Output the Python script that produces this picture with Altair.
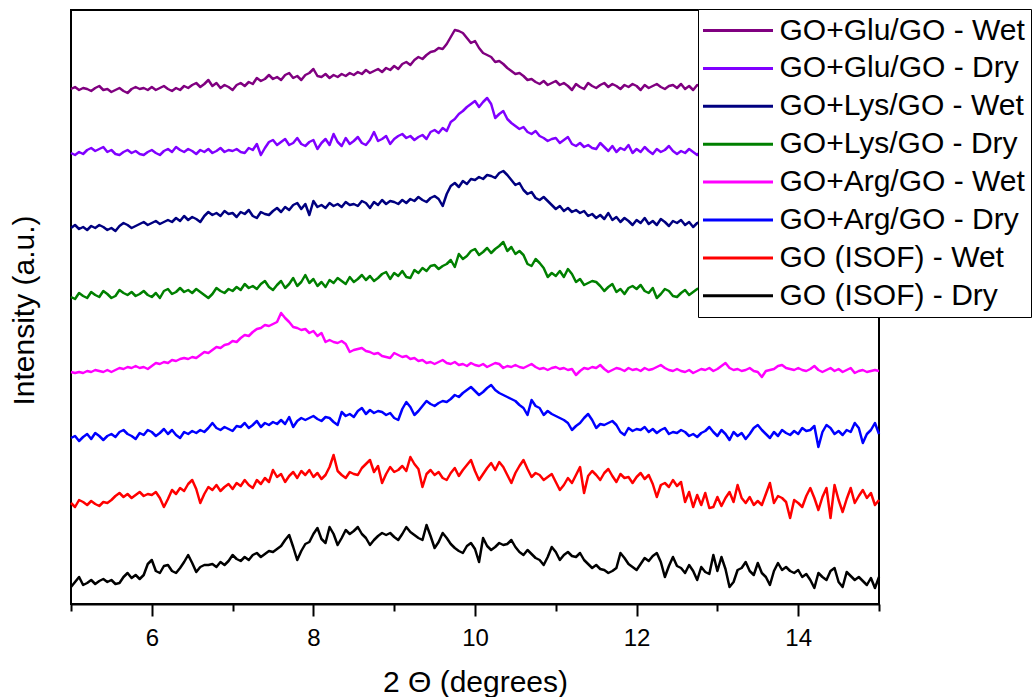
import altair as alt
import pandas as pd

two_theta = [round(5 + 0.05 * i, 2) for i in range(201)]

series_names = [
    "GO+Glu/GO - Wet", "GO+Glu/GO - Dry", "GO+Lys/GO - Wet", "GO+Lys/GO - Dry",
    "GO+Arg/GO - Wet", "GO+Arg/GO - Dry", "GO (ISOF) - Wet", "GO (ISOF) - Dry",
]
series_colors = ["#800080", "#8000FF", "#000080", "#008000",
                 "#FF00FF", "#0000FF", "#FF0000", "#000000"]

glu_wet = [
    515, 517, 514, 516, 515, 513, 516, 518, 514, 515,
    512, 514, 516, 513, 511, 515, 517, 515, 516, 514,
    517, 514, 516, 518, 515, 513, 516, 514, 518, 516,
    519, 521, 517, 520, 524, 518, 521, 516, 519, 517,
    514, 519, 521, 518, 522, 520, 526, 523, 525, 529,
    525, 527, 524, 529, 531, 526, 528, 524, 529, 531,
    535, 528, 527, 530, 526, 529, 527, 530, 528, 531,
    529, 532, 530, 534, 531, 533, 535, 532, 536, 534,
    538, 535, 540, 542, 539, 544, 547, 545, 549, 552,
    553, 556, 555, 560, 567, 574, 573, 571, 566, 561,
    563, 556, 551, 549, 547, 542, 543, 540, 536, 533,
    530, 531, 528, 524, 525, 522, 520, 523, 519, 521,
    523, 519, 521, 518, 514, 520, 517, 515, 521, 518,
    516, 519, 521, 517, 520, 518, 515, 519, 517, 520,
    518, 514, 519, 516, 518, 520, 517, 515, 518, 519,
    516, 520, 515, 518, 514, 519, 517, 515, 518, 516,
    517, 515, 518, 516, 514, 517, 519, 516, 515, 517,
    516, 518, 515, 517, 514, 516, 518, 515, 517, 516,
    515, 517, 519, 516, 514, 517, 515, 518, 516, 515,
    517, 514, 516, 518, 515, 517, 516, 514, 517, 515, 516,
]
glu_dry = [
    451, 449, 452, 450, 454, 456, 453, 455, 457, 452,
    454, 450, 449, 452, 454, 451, 453, 450, 449, 452,
    454, 451, 449, 453, 455, 452, 457, 454, 452, 455,
    453, 450, 454, 452, 455, 451, 453, 456, 452, 454,
    453, 455, 452, 451, 456, 454, 460, 449, 456, 462,
    464, 459, 462, 465, 459, 461, 466, 460, 458, 462,
    464, 455, 461, 465, 459, 470, 462, 458, 466, 460,
    463, 467, 461, 459, 464, 472, 463, 465, 468, 460,
    465, 468, 470, 466, 468, 464, 467, 469, 465, 472,
    474, 471, 476, 473, 482, 485, 490, 493, 497, 500,
    503, 497, 502, 506, 500, 486, 490, 493, 485, 481,
    478, 475, 477, 472, 470, 473, 468, 466, 463, 465,
    466, 461, 464, 467, 460, 458, 461, 457, 459, 456,
    455, 461, 457, 453, 458, 452, 456, 454, 459, 451,
    455, 452, 457, 453, 450, 455, 452, 454, 458, 453,
    450, 453, 451, 455, 452, 449, 453, 451, 454, 450,
    452, 450, 454, 451, 449, 453, 451, 455, 452, 450,
    453, 451, 449, 452, 454, 450, 452, 449, 451, 453,
    450, 452, 454, 451, 449, 452, 450, 453, 451, 449,
    452, 450, 453, 451, 449, 452, 454, 450, 451, 452, 450,
]
lys_wet = [
    376, 379, 375, 377, 374, 378, 376, 379, 377, 374,
    376, 373, 378, 381, 379, 376, 378, 380, 382, 379,
    381, 383, 380, 382, 384, 382, 386, 383, 388, 384,
    387, 385, 382, 388, 392, 389, 391, 388, 393, 390,
    391, 387, 392, 390, 394, 388, 386, 392, 390, 389,
    393, 396, 392, 397, 394, 399, 401, 395, 400, 389,
    403, 397, 399, 396, 401, 398, 400, 397, 402, 399,
    400, 398, 403, 401, 396, 402, 399, 404, 400, 403,
    402, 400, 404, 401, 405, 403, 407, 404, 402, 406,
    408, 405, 398, 410, 418, 421, 417, 423, 420, 425,
    424, 427, 425, 429, 428, 426, 431, 433, 429, 424,
    419, 421, 414, 410, 412, 406, 404, 407, 403, 399,
    395, 398, 393, 396, 392, 394, 391, 393, 388, 390,
    386, 389, 385, 391, 384, 387, 382, 386, 383, 379,
    384, 381, 386, 380, 383, 379, 385, 382, 378, 383,
    381, 384, 379, 382, 377, 381, 383, 378, 380, 382,
    379, 381, 378, 382, 380, 377, 381, 379, 383, 380,
    378, 381, 379, 382, 380, 378, 381, 383, 379, 380,
    382, 379, 381, 378, 380, 383, 379, 381, 378, 380,
    381, 379, 382, 380, 378, 381, 379, 382, 380, 379, 381,
]
lys_dry = [
    307, 305, 311, 308, 306, 312, 309, 307, 313, 310,
    306, 308, 314, 311, 309, 312, 308, 310, 313, 309,
    307, 311, 306, 313, 315, 310, 312, 316, 312, 314,
    311, 315, 312, 309, 306, 310, 316, 313, 311, 315,
    313, 317, 314, 320, 316, 318, 315, 320, 323, 317,
    314, 319, 323, 316, 320, 326, 318, 322, 329, 321,
    325, 318, 322, 317, 324, 321, 326, 323, 320, 327,
    322, 325, 329, 324, 328, 323, 326, 330, 332, 325,
    331, 328, 333, 327, 326, 334, 331, 336, 333, 338,
    339, 335, 338, 340, 344, 337, 350, 345, 348, 353,
    355, 349, 352, 356, 351, 355, 358, 362, 353, 357,
    350, 353, 349, 340, 338, 345, 341, 336, 327, 331,
    328, 333, 327, 335, 330, 322, 325, 319, 321, 323,
    322, 318, 313, 317, 320, 312, 315, 310, 316, 318,
    315, 319, 313, 311, 316, 306, 310, 315, 313, 308,
    307, 311, 314, 309, 312, 315, 316, 312, 310, 313,
    311, 314, 309, 312, 310, 313, 311, 308, 312, 310,
    313, 309, 311, 314, 310, 308, 312, 311, 309, 313,
    310, 312, 309, 311, 314, 310, 308, 312, 310, 311,
    313, 309, 311, 310, 312, 308, 311, 313, 310, 309, 312,
]
arg_wet = [
    232, 231, 232, 231, 233, 232, 234, 233, 232, 234,
    232, 234, 236, 235, 237, 236, 238, 236, 237, 235,
    238, 241, 240, 242, 241, 244, 243, 245, 246, 245,
    247, 246, 249, 252, 251, 254, 257, 256, 259, 260,
    263, 262, 266, 269, 268, 272, 275, 276, 279, 278,
    280, 282, 291, 286, 282, 277, 276, 274, 275, 271,
    273, 268, 271, 262, 264, 262, 261, 263, 260, 252,
    254, 255, 256, 253, 252, 250, 251, 248, 247, 246,
    251, 249, 247, 248, 245, 246, 243, 244, 241, 242,
    240, 242, 244, 241, 240, 242, 239, 240, 238, 241,
    239, 238, 240, 237, 239, 241, 240, 236, 238, 237,
    239, 237, 236, 238, 240, 237, 235, 236, 234, 236,
    237, 235, 236, 234, 235, 229, 233, 236, 235, 237,
    236, 239, 235, 232, 234, 236, 235, 233, 236, 234,
    235, 233, 236, 234, 235, 237, 239, 236, 234, 233,
    235, 233, 232, 234, 231, 233, 235, 234, 236, 233,
    235, 238, 241, 236, 234, 235, 233, 234, 236, 233,
    232, 227, 233, 234, 235, 238, 239, 236, 235, 234,
    236, 234, 233, 235, 238, 234, 232, 234, 236, 233,
    235, 232, 234, 236, 231, 233, 234, 232, 233, 234, 233,
]
arg_dry = [
    166, 168, 163, 167, 170, 165, 171, 168, 164, 168,
    170, 167, 172, 174, 170, 168, 165, 171, 169, 174,
    172, 168, 171, 175, 170, 174, 169, 166, 172, 170,
    173, 171, 174, 172, 176, 181, 176, 174, 177, 175,
    173, 178, 177, 181, 176, 179, 183, 177, 181, 179,
    182, 180, 184, 180, 187, 177, 183, 186, 184, 186,
    188, 185, 183, 187, 186, 182, 179, 192, 188, 190,
    187, 193, 196, 190, 194, 191, 193, 192, 189, 191,
    186, 184, 195, 202, 197, 189, 193, 198, 203, 200,
    198, 201, 203, 202, 205, 209, 207, 211, 214, 217,
    213, 209, 212, 216, 219, 214, 211, 209, 207, 205,
    203, 199, 196, 189, 204, 198, 196, 189, 193, 190,
    188, 186, 184, 181, 174, 178, 181, 186, 190, 184,
    176, 180, 179, 181, 183, 179, 172, 169, 176, 173,
    175, 174, 177, 172, 175, 171, 174, 176, 170, 172,
    171, 174, 172, 168, 170, 167, 171, 173, 177, 172,
    168, 174, 170, 164, 172, 168, 171, 165, 170, 176,
    179, 174, 170, 166, 172, 168, 174, 171, 169, 173,
    170, 176, 173, 174, 178, 157, 172, 179, 176, 170,
    173, 169, 174, 172, 181, 176, 161, 170, 174, 181, 170,
]
isof_wet = [
    101, 97, 104, 102, 99, 103, 100, 98, 102, 101,
    104, 108, 111, 107, 110, 106, 109, 112, 108, 110,
    109, 112, 106, 97, 105, 114, 110, 116, 113, 120,
    124, 115, 101, 110, 117, 114, 119, 113, 117, 120,
    115, 121, 118, 124, 119, 116, 124, 120, 126, 122,
    134, 127, 130, 122, 128, 132, 126, 133, 129, 134,
    127, 131, 125, 129, 137, 149, 133, 129, 126, 132,
    130, 129, 136, 140, 144, 132, 138, 121, 130, 137,
    132, 134, 138, 133, 147, 140, 135, 117, 130, 134,
    129, 132, 126, 124, 131, 136, 128, 134, 139, 144,
    133, 124, 130, 136, 141, 134, 142, 137, 129, 121,
    131, 138, 144, 135, 127, 131, 129, 124, 127, 130,
    122, 114, 119, 126, 121, 129, 137, 111, 128, 133,
    129, 124, 131, 135, 128, 122, 130, 126, 127, 121,
    127, 131, 125, 129, 120, 107, 119, 121, 117, 124,
    118, 122, 102, 112, 97, 109, 99, 111, 96, 97,
    107, 98, 106, 112, 102, 119, 106, 101, 107, 99,
    103, 99, 110, 121, 101, 108, 106, 102, 86, 104,
    101, 97, 108, 116, 106, 94, 107, 116, 86, 119,
    104, 92, 105, 116, 101, 108, 114, 106, 111, 99, 104,
]
isof_dry = [
    17, 22, 27, 19, 21, 24, 20, 23, 25, 22,
    24, 20, 21, 27, 31, 26, 29, 25, 29, 40,
    44, 33, 31, 38, 39, 33, 31, 36, 42, 49,
    41, 32, 37, 39, 39, 40, 37, 42, 39, 43,
    49, 45, 43, 47, 44, 49, 51, 47, 50, 53,
    52, 55, 58, 64, 69, 57, 44, 53, 60, 62,
    70, 76, 65, 61, 77, 70, 59, 66, 74, 70,
    73, 77, 70, 66, 59, 64, 68, 71, 69, 71,
    67, 64, 70, 77, 72, 69, 66, 64, 79, 68,
    56, 62, 71, 66, 60, 56, 53, 51, 58, 61,
    55, 42, 66, 58, 54, 57, 61, 59, 60, 64,
    57, 52, 49, 54, 50, 46, 44, 39, 47, 57,
    52, 44, 49, 52, 48, 47, 51, 44, 40, 36,
    39, 35, 34, 31, 33, 36, 51, 46, 40, 37,
    34, 40, 46, 43, 48, 51, 42, 27, 38, 47,
    38, 36, 31, 39, 33, 24, 37, 32, 30, 49,
    33, 47, 35, 17, 22, 34, 36, 42, 33, 29,
    41, 31, 27, 19, 33, 41, 34, 37, 33, 31,
    34, 27, 30, 24, 16, 31, 27, 24, 33, 36,
    22, 17, 32, 28, 24, 27, 23, 19, 26, 16, 27,
]

all_series = [glu_wet, glu_dry, lys_wet, lys_dry, arg_wet, arg_dry, isof_wet, isof_dry]
for name, vals in zip(series_names, all_series):
    assert len(vals) == len(two_theta), (name, len(vals))

rows = []
for name, vals in zip(series_names, all_series):
    for t, v in zip(two_theta, vals):
        rows.append({"theta": t, "intensity": v, "series": name})
df = pd.DataFrame(rows)

tick_values = list(range(5, 16))
FONT = "Liberation Sans"

chart = (
    alt.Chart(df)
    .mark_line(strokeWidth=2.5, strokeJoin="round")
    .encode(
        x=alt.X(
            "theta:Q",
            scale=alt.Scale(domain=[5, 15], nice=False, zero=False),
            axis=alt.Axis(
                values=tick_values,
                title="2 Θ (degrees)",
                labelExpr="datum.value % 2 == 0 ? datum.label : ''",
                tickSize={"condition": {"test": "datum.value % 2 == 0", "value": 12}, "value": 7},
                tickWidth=2,
                tickColor="black",
                domainColor="black",
                domainWidth=2,
                labelFontSize=24,
                labelColor="black",
                labelPadding=10,
                labelOverlap=False,
                labelFlush=False,
                grid=False,
                titleFontSize=30,
                titleFontWeight="normal",
                titleColor="black",
                titleBaseline="alphabetic",
                titleY=87,
            ),
        ),
        y=alt.Y(
            "intensity:Q",
            scale=alt.Scale(domain=[0, 594], nice=False, zero=False),
            axis=alt.Axis(
                title="Intensity (a.u.)",
                labels=False,
                ticks=False,
                domain=False,
                grid=False,
                titleFontSize=30,
                titleFontWeight="normal",
                titleColor="black",
                titleBaseline="alphabetic",
                titleX=-38,
                titleY=300,
            ),
        ),
        color=alt.Color(
            "series:N",
            scale=alt.Scale(domain=series_names, range=series_colors),
            sort=series_names,
            legend=alt.Legend(title=None),
        ),
    )
    .properties(
        width=808,
        height=594,
        padding={"left": 71, "top": 10, "right": 157, "bottom": 93},
        autosize=alt.AutoSizeParams(type="none"),
    )
    .configure(font=FONT)
    .configure_view(stroke="black", strokeWidth=2)
    .configure_legend(
        orient="none",
        legendX=627,
        legendY=-1,
        fillColor="white",
        strokeColor="black",
        padding=6,
        labelFontSize=30,
        labelColor="black",
        labelLimit=500,
        symbolType="M-2.5,0H2.5",
        symbolSize=784,
        symbolStrokeWidth=3,
        symbolOffset=18.5,
        labelOffset=26,
        rowPadding=6.9,
        zindex=1,
    )
)

chart.save("out.html", embed_options={"renderer": "svg", "actions": False})
